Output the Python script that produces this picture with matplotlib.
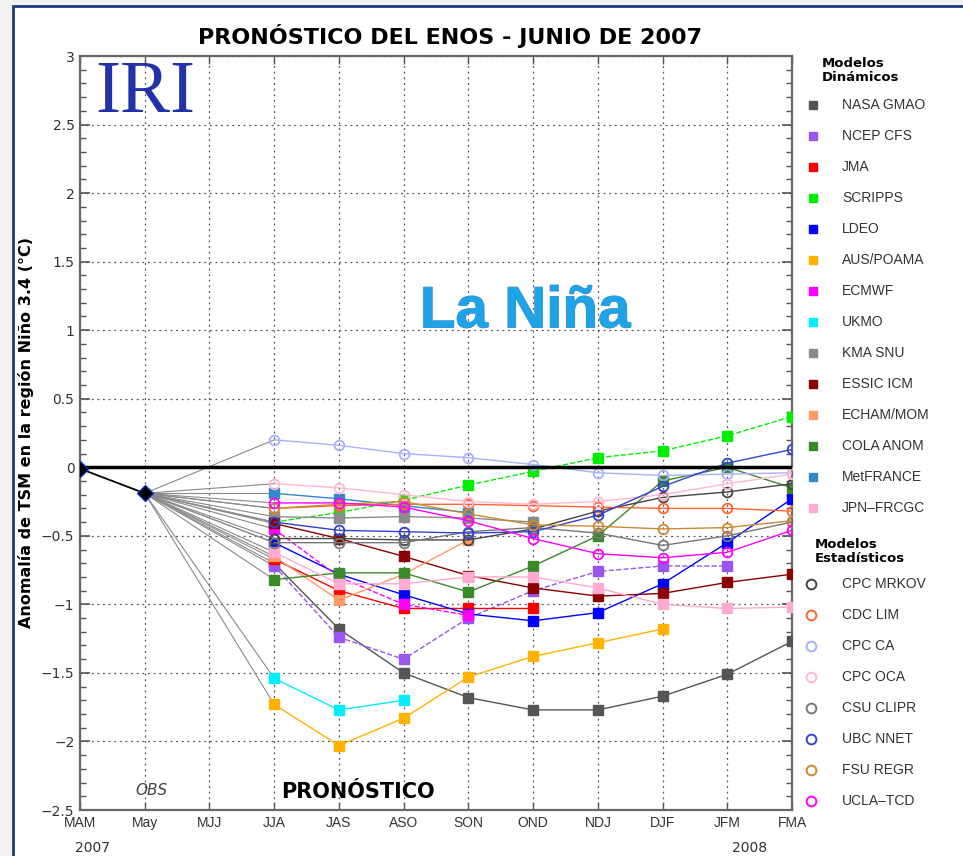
import numpy as np
import matplotlib.pyplot as plt
import matplotlib.patheffects as pe
from matplotlib.patches import Rectangle

nan = np.nan

# season labels along the x axis
seasons = ['MAM', 'May', 'MJJ', 'JJA', 'JAS', 'ASO', 'SON', 'OND', 'NDJ', 'DJF', 'JFM', 'FMA']

# observed values (MAM, May)
obs = [-0.01, -0.19]

# forecasts from JJA to FMA
nasa_gmao = [-0.70, -1.18, -1.50, -1.68, -1.77, -1.77, -1.67, -1.51, -1.27]
ncep_cfs = [-0.72, -1.24, -1.40, -1.10, -0.90, -0.76, -0.72, -0.72, nan]
jma = [-0.67, -0.90, -1.03, -1.03, -1.03, nan, nan, nan, nan]
scripps = [-0.40, -0.33, -0.24, -0.13, -0.03, 0.07, 0.12, 0.23, 0.37]
ldeo = [-0.55, -0.78, -0.93, -1.07, -1.12, -1.06, -0.85, -0.55, -0.23]
aus_poama = [-1.73, -2.03, -1.83, -1.53, -1.38, -1.28, -1.18, nan, nan]
ecmwf = [-0.45, -0.80, -1.00, -1.08, nan, nan, nan, nan, nan]
ukmo = [-1.54, -1.77, -1.70, nan, nan, nan, nan, nan, nan]
kma_snu = [-0.36, -0.37, -0.36, -0.37, -0.40, nan, nan, nan, nan]
essic_icm = [-0.41, -0.52, -0.65, -0.79, -0.88, -0.94, -0.92, -0.84, -0.78]
echam_mom = [-0.65, -0.97, -0.78, -0.53, nan, nan, nan, nan, nan]
cola_anom = [-0.82, -0.77, -0.77, -0.91, -0.72, -0.50, -0.10, 0.00, -0.15]
metfrance = [-0.19, -0.23, -0.28, -0.33, nan, nan, nan, nan, nan]
jpn_frcgc = [-0.62, -0.85, -0.85, -0.80, -0.80, -0.88, -1.00, -1.03, -1.02]

cpc_mrkov = [-0.52, -0.52, -0.53, -0.53, -0.45, -0.32, -0.22, -0.18, -0.12]
cdc_lim = [-0.30, -0.28, -0.27, -0.27, -0.28, -0.29, -0.30, -0.30, -0.32]
cpc_ca = [0.20, 0.16, 0.10, 0.07, 0.02, -0.04, -0.06, -0.05, -0.04]
cpc_oca = [-0.12, -0.15, -0.20, -0.25, -0.27, -0.25, -0.20, -0.12, -0.05]
csu_clipr = [-0.55, -0.55, -0.55, -0.47, -0.44, -0.48, -0.57, -0.50, -0.40]
ubc_nnet = [-0.40, -0.46, -0.47, -0.48, -0.47, -0.35, -0.14, 0.03, 0.13]
fsu_regr = [-0.30, -0.27, -0.25, -0.34, -0.42, -0.43, -0.45, -0.44, -0.39]
ucla_tcd = [-0.26, -0.26, -0.29, -0.39, -0.52, -0.63, -0.66, -0.62, -0.46]

dyn_names = ['NASA GMAO', 'NCEP CFS', 'JMA', 'SCRIPPS', 'LDEO', 'AUS/POAMA', 'ECMWF',
             'UKMO', 'KMA SNU', 'ESSIC ICM', 'ECHAM/MOM', 'COLA ANOM', 'MetFRANCE', 'JPN\u2013FRCGC']
dyn_values = [nasa_gmao, ncep_cfs, jma, scripps, ldeo, aus_poama, ecmwf,
              ukmo, kma_snu, essic_icm, echam_mom, cola_anom, metfrance, jpn_frcgc]
dyn_colors = ['#555555', '#9955ee', '#ff0000', '#00ee00', '#0000ff', '#ffb300', '#ff00ff',
              '#00eeff', '#8c8c8c', '#8b0000', '#ff9966', '#3a8a2a', '#3388cc', '#ffaad0']
dyn_styles = ['-', '--', '-', '--', '-', '-', '--', '-', '-', '-', '-', '-', '-', '-']

stat_names = ['CPC MRKOV', 'CDC LIM', 'CPC CA', 'CPC OCA', 'CSU CLIPR', 'UBC NNET', 'FSU REGR', 'UCLA\u2013TCD']
stat_values = [cpc_mrkov, cdc_lim, cpc_ca, cpc_oca, csu_clipr, ubc_nnet, fsu_regr, ucla_tcd]
stat_colors = ['#444444', '#ff6633', '#aab0ff', '#ffb8d0', '#777777', '#3344cc', '#cc8833', '#ff00ff']

W, H = 963, 856
fig = plt.figure(figsize=(W / 100, H / 100), dpi=100, facecolor='#f2f2f2')

# slide-like background and the right-hand legend, in pixel coordinates
bg = fig.add_axes([0, 0, 1, 1], zorder=0)
bg.set_xlim(0, W)
bg.set_ylim(H, 0)
bg.axis('off')
bg.add_patch(Rectangle((13, 6), W, H, facecolor='white', edgecolor='#1f3a7a', lw=2))

ax = fig.add_axes([80 / W, 1 - 810 / H, 712 / W, 754 / H], zorder=1)
x_fc = np.arange(3, 12)

# gray links from the last observation to the first forecast
for vals in dyn_values + stat_values:
    ax.plot([1, 3], [obs[1], vals[0]], color='#8a8a8a', lw=0.8, zorder=2)

for vals, c, ls in zip(dyn_values, dyn_colors, dyn_styles):
    ax.plot(x_fc, vals, ls, color=c, lw=1.0, marker='s', ms=6.5, mec=c, mfc=c, zorder=3)

for vals, c in zip(stat_values, stat_colors):
    ax.plot(x_fc, vals, '-', color=c, lw=1.0, marker='o', ms=7, mec=c, mfc='none', mew=1.3, zorder=3)

ax.plot([0, 1], obs, '-', color='black', lw=1.3, marker='D', ms=8, mfc='black', mec='#1030c0', zorder=5)
ax.axhline(0, color='black', lw=2.5, zorder=4)

ax.set_xlim(0, 11)
ax.set_ylim(-2.5, 3)
ax.set_xticks(range(len(seasons)))
ax.set_xticklabels(seasons, fontsize=10, color='#333333', family='Liberation Sans')
ax.set_yticks(np.arange(-2.5, 3.01, 0.5))
ax.set_yticklabels(['\u22122.5', '\u22122', '\u22121.5', '\u22121', '\u22120.5', '0',
                    '0.5', '1', '1.5', '2', '2.5', '3'], fontsize=10, color='#333333')
ax.set_yticks(np.arange(-2.5, 3.01, 0.1), minor=True)
ax.tick_params(axis='y', which='major', direction='in', length=7, width=1.2, right=True, colors='#555555',
               labelcolor='#333333', pad=4)
ax.tick_params(axis='y', which='minor', direction='in', length=4, width=1, right=True, colors='#555555')
ax.tick_params(axis='x', direction='in', length=6, width=1, top=True, colors='#555555',
               labelcolor='#333333', pad=4)
ax.grid(True, color='#555555', linestyle=(0, (1.5, 3)), lw=0.9)
for s in ax.spines.values():
    s.set_color('#666666')
    s.set_linewidth(1.6)

ax.set_ylabel('Anomalía de TSM en la región Niño 3.4 (°C)', fontsize=11.5, fontweight='bold', labelpad=5)
ax.set_title('PRONÓSTICO DEL ENOS - JUNIO DE 2007', fontsize=16, fontweight='bold', pad=9, x=0.52)

ax.text(0.23, 2.97, 'IRI', family='Liberation Serif', fontsize=54, color='#2233aa', va='top', ha='left')
ax.text(6.88, 1.13, 'La Niña', family='Liberation Sans', fontsize=42, fontweight='bold',
        color='#1ea3e6', ha='center', va='center',
        path_effects=[pe.withStroke(linewidth=0.8, foreground='#3a8fc8')])
ax.text(1.1, -2.36, 'OBS', fontsize=11, style='italic', color='#444444', ha='center', va='center')
ax.text(4.3, -2.37, 'PRONÓSTICO', fontsize=15, fontweight='bold', ha='center', va='center')
ax.text(0.2, -2.78, '2007', fontsize=10, color='#333333', ha='center', va='center', clip_on=False)
ax.text(10.35, -2.78, '2008', fontsize=10, color='#333333', ha='center', va='center', clip_on=False)

# legend
bg.text(822, 70, 'Modelos\nDinámicos', fontsize=9.5, fontweight='bold', va='center', ha='left', linespacing=1.1)
dyn_rows = 105 + 31 * np.arange(len(dyn_names))
for name, c, yy in zip(dyn_names, dyn_colors, dyn_rows):
    bg.plot(813, yy, 's', color=c, ms=5.5)
    bg.text(842, yy, name, fontsize=10, color='#333333', va='center', family='Liberation Sans')
bg.text(815, 552, 'Modelos\nEstadísticos', fontsize=9.5, fontweight='bold', va='center', ha='left', linespacing=1.1)
stat_rows = 584 + 31 * np.arange(len(stat_names))
for name, c, yy in zip(stat_names, stat_colors, stat_rows):
    bg.plot(811, yy, 'o', mec=c, mfc='none', mew=1.4, ms=7)
    bg.text(842, yy, name, fontsize=10, color='#333333', va='center', family='Liberation Sans')

fig.savefig('out.png', dpi=100, facecolor=fig.get_facecolor())
